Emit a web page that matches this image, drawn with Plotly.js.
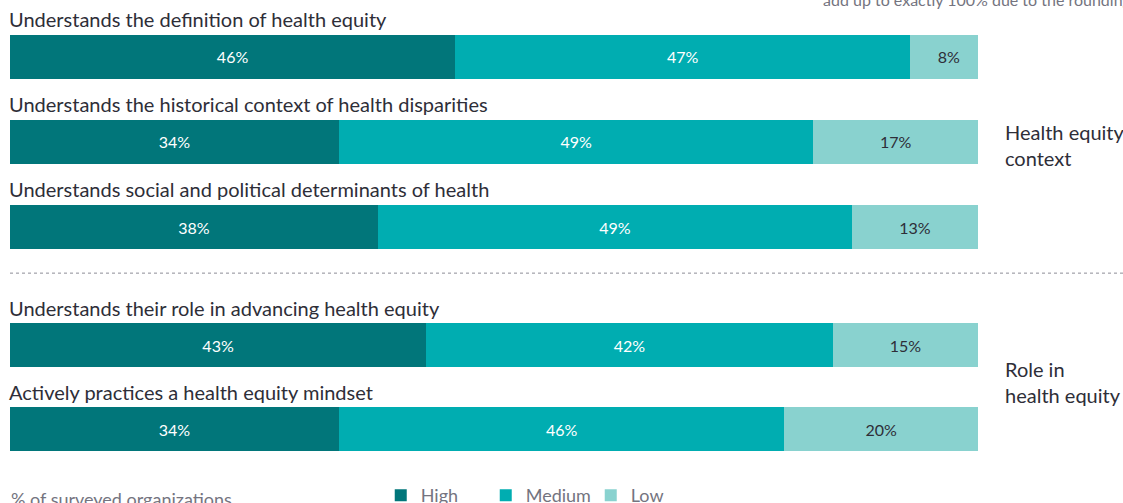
<!DOCTYPE html>
<html>
<head>
<meta charset="utf-8">
<script src="https://cdn.plot.ly/plotly-3.0.1.min.js"></script>
<style>html,body{margin:0;padding:0;background:#fff}#chart{width:1123px;height:503px}</style>
</head>
<body>
<div id="chart"></div>
<script>
// Data
var topItems = [
  "Understands the definition of health equity",
  "Understands the historical context of health disparities",
  "Understands social and political determinants of health"
];
var topHigh = [46, 34, 38];
var topMedium = [47, 49, 49];
var topLow = [8, 17, 13];

var bottomItems = [
  "Understands their role in advancing health equity",
  "Actively practices a health equity mindset"
];
var bottomHigh = [43, 34];
var bottomMedium = [42, 46];
var bottomLow = [15, 20];

var seriesNames = ["High", "Medium", "Low"];
var groupLabels = ["Health equity<br>context", "Role in<br>health equity"];
var axisNote = "% of surveyed organizations";
var topNote = "add up to exactly 100% due to the rounding";

var colors = ["#01767A", "#00ADB1", "#89D2CF"];
var textColors = ["#ffffff", "#ffffff", "#2e2e38"];
var FONT = "Lato, 'Noto Sans', Arial, sans-serif";

function makeTrace(name, vals, cats, idx, ya, showLegend) {
  return {
    type: "bar", orientation: "h", name: name,
    x: vals, y: cats, xaxis: "x", yaxis: ya,
    marker: {color: colors[idx], line: {width: 0}},
    text: vals.map(function(v){return v + "%";}),
    textposition: "inside", insidetextanchor: "middle",
    textfont: {family: FONT, size: 16, color: textColors[idx]},
    hoverinfo: "none", showlegend: showLegend, cliponaxis: true,
    legendgroup: name
  };
}

var data = [
  makeTrace(seriesNames[0], topHigh, topItems, 0, "y", true),
  makeTrace(seriesNames[1], topMedium, topItems, 1, "y", true),
  makeTrace(seriesNames[2], topLow, topItems, 2, "y", true),
  makeTrace(seriesNames[0], bottomHigh, bottomItems, 0, "y2", false),
  makeTrace(seriesNames[1], bottomMedium, bottomItems, 1, "y2", false),
  makeTrace(seriesNames[2], bottomLow, bottomItems, 2, "y2", false)
];

var annotations = [];
topItems.forEach(function(c){
  annotations.push({xref: "x", yref: "y", x: 0, y: c, text: c, showarrow: false,
    xanchor: "left", yanchor: "middle", yshift: 38, xshift: -3,
    font: {family: FONT, size: 20, color: "#2e2e38"}});
});
bottomItems.forEach(function(c){
  annotations.push({xref: "x", yref: "y2", x: 0, y: c, text: c, showarrow: false,
    xanchor: "left", yanchor: "middle", yshift: 37, xshift: -3,
    font: {family: FONT, size: 20, color: "#2e2e38"}});
});
annotations.push({xref: "paper", yref: "y", x: 1.026, y: 1, yshift: -3, text: groupLabels[0],
  showarrow: false, xanchor: "left", yanchor: "middle", align: "left",
  font: {family: FONT, size: 20, color: "#2e2e38"}});
annotations.push({xref: "paper", yref: "y2", x: 1.026, y: 0.5, yshift: 5, text: groupLabels[1],
  showarrow: false, xanchor: "left", yanchor: "middle", align: "left",
  font: {family: FONT, size: 20, color: "#2e2e38"}});
annotations.push({xref: "paper", yref: "paper", x: 0, y: 0.0, yshift: -9, xshift: -1, text: axisNote,
  showarrow: false, xanchor: "left", yanchor: "bottom",
  font: {family: FONT, size: 18, color: "#747480"}});
annotations.push({xref: "paper", yref: "paper", x: 0.838, y: 1, yshift: 12, text: topNote,
  showarrow: false, xanchor: "left", yanchor: "top",
  font: {family: FONT, size: 16, color: "#747480"}});

var layout = {
  width: 1123, height: 503,
  margin: {l: 10, r: 145, t: 0, b: 0, autoexpand: false},
  paper_bgcolor: "#ffffff", plot_bgcolor: "#ffffff",
  barmode: "stack", bargap: 0.48,
  font: {family: FONT, color: "#2e2e38"},
  xaxis: {range: [0, 100], visible: false, fixedrange: true},
  yaxis: {domain: [0.4642, 0.9712], range: [2.5, -0.5], type: "category",
          showticklabels: false, showgrid: false, zeroline: false, showline: false, ticks: ""},
  yaxis2: {domain: [0.0636, 0.3976], range: [1.5, -0.5], type: "category",
           showticklabels: false, showgrid: false, zeroline: false, showline: false, ticks: ""},
  showlegend: true,
  legend: {orientation: "h", x: 0.383, y: -0.022, xanchor: "left", yanchor: "bottom",
           entrywidth: 60, entrywidthmode: "pixels", itemgap: 10,
           font: {family: FONT, size: 18, color: "#747480"},
           traceorder: "normal", bgcolor: "rgba(0,0,0,0)", itemclick: false, itemdoubleclick: false},
  shapes: [{type: "line", xref: "paper", yref: "paper", x0: 0, x1: 1.16, y0: 0.457, y1: 0.457,
            line: {color: "#8c8c96", width: 1, dash: "dot"}}],
  annotations: annotations
};

Plotly.newPlot("chart", data, layout, {displayModeBar: false, staticPlot: true});
</script>
</body>
</html>
